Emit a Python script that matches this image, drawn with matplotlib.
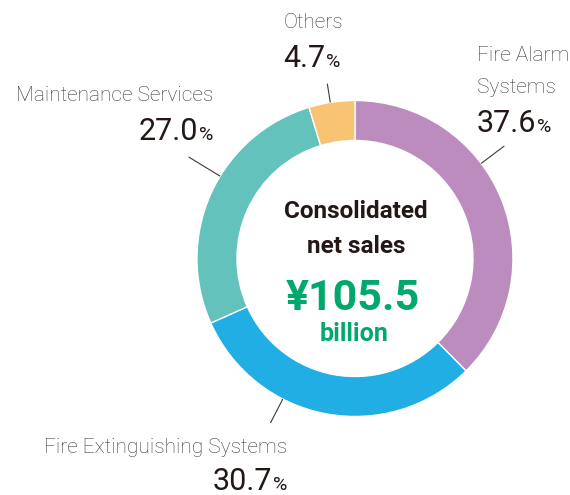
import matplotlib
matplotlib.use("Agg")
import matplotlib.pyplot as plt
import numpy as np

# ---- data ----
categories = ["Fire Alarm\nSystems", "Fire Extinguishing Systems", "Maintenance Services", "Others"]
shares = [37.6, 30.7, 27.0, 4.7]
share_labels = ["37.6", "30.7", "27.0", "4.7"]
colors = ["#BC8CBF", "#20AEE5", "#63C2BC", "#F8C373"]
center_title = ["Consolidated", "net sales"]
center_value = "¥105.5"
center_unit = "billion"

# ---- style / layout ----
W, H = 570, 495
FAMILY = ["Roboto", "DejaVu Sans"]
DARK = "#231815"
GRAY = "#3E3A39"
GREEN = "#00A86B"
cx, cy = 355, H - 258.5
R_OUT, R_IN = 158, 118

fig = plt.figure(figsize=(W / 100, H / 100), dpi=100)
ax = fig.add_axes([0, 0, 1, 1])
ax.set_xlim(0, W)
ax.set_ylim(0, H)
ax.set_aspect("equal")
ax.axis("off")

ax.pie(shares, colors=colors, startangle=90, counterclock=False,
       center=(cx, cy), radius=R_OUT,
       wedgeprops=dict(width=R_OUT - R_IN, edgecolor="white", linewidth=1.0))
ax.set_xlim(0, W)
ax.set_ylim(0, H)

# leader lines (angle in degrees, outer radius)
leaders = [(37.0, 187), (-117.2, 185), (148.6, 195), (99.0, 177)]
for ang, r2 in leaders:
    a = np.deg2rad(ang)
    ax.plot([cx + R_OUT * np.cos(a), cx + r2 * np.cos(a)],
            [cy + R_OUT * np.sin(a), cy + r2 * np.sin(a)],
            color="#3E3A39", lw=0.8, solid_capstyle="butt")

renderer = fig.canvas.get_renderer()
NUM_SIZE = 22
PCT_SIZE = 14
LAB_SIZE = 15


def width_of(t):
    return t.get_window_extent(renderer).width


def pct_label(x, y, num, ha):
    y = H - y
    t = ax.text(0, y, num, size=NUM_SIZE, family=FAMILY, color=DARK,
                ha="left", va="baseline")
    p = ax.text(0, y, "%", size=PCT_SIZE, family=FAMILY, color=DARK,
                ha="left", va="baseline")
    wn, wp = width_of(t), width_of(p)
    gap = 1
    total = wn + gap + wp
    if ha == "left":
        x0 = x
    elif ha == "right":
        x0 = x - total
    else:
        x0 = x - total / 2
    t.set_x(x0)
    p.set_x(x0 + wn + gap)


def lab(x, y, s, ha):
    ax.text(x, H - y, s, size=LAB_SIZE, family=FAMILY, weight="light",
            color=GRAY, ha=ha, va="baseline")


# Fire Alarm Systems
lab(477, 61, "Fire Alarm", "left")
lab(477, 93, "Systems", "left")
pct_label(477, 132, share_labels[0], "left")
# Fire Extinguishing Systems
lab(287, 453, categories[1], "right")
pct_label(287, 490, share_labels[1], "right")
# Maintenance Services
lab(213, 101, categories[2], "right")
pct_label(213, 140, share_labels[2], "right")
# Others
lab(313, 28, categories[3], "center")
pct_label(312, 67, share_labels[3], "center")

# centre text
ax.text(cx + 1, H - 218, center_title[0], size=17.5, family=FAMILY, weight="bold",
        color=DARK, ha="center", va="baseline")
ax.text(cx + 1, H - 253, center_title[1], size=17.5, family=FAMILY, weight="bold",
        color=DARK, ha="center", va="baseline")
ax.text(cx - 2, H - 310, center_value, size=31, family=FAMILY, weight="bold",
        color=GREEN, ha="center", va="baseline")
ax.text(cx - 1, H - 341, center_unit, size=18, family=FAMILY, weight="bold",
        color=GREEN, ha="center", va="baseline")

fig.savefig("out.png", dpi=100)
